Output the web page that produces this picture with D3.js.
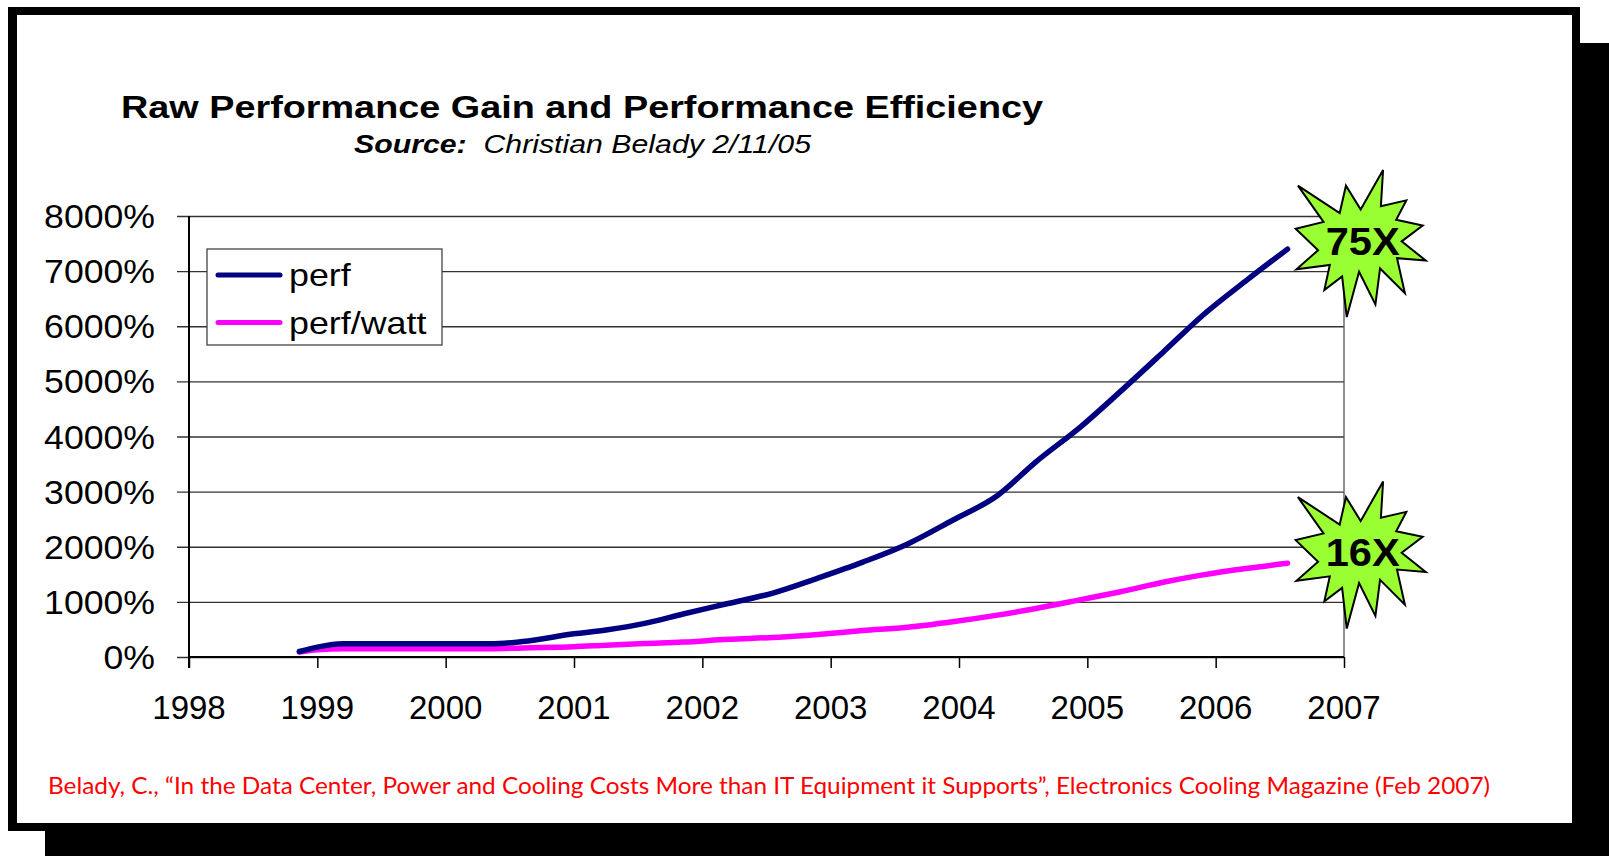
<!DOCTYPE html>
<html>
<head>
<meta charset="utf-8">
<script src="https://cdn.jsdelivr.net/npm/d3@7"></script>
<style>
  html, body { margin: 0; padding: 0; background: #fff; }
  svg { display: block; }
</style>
</head>
<body>
<svg id="chart" width="1609" height="856"></svg>
<script>
// ---- data -------------------------------------------------------------
const years    = [1998.86, 1999.0, 1999.2, 1999.6, 2000.0, 2000.35, 2000.6, 2001.0, 2001.25, 2001.55,
                  2001.85, 2002.2, 2002.55, 2002.9, 2003.25, 2003.6, 2003.95, 2004.3, 2004.6, 2004.95,
                  2005.25, 2005.6, 2005.9, 2006.25, 2006.56];
const perf     = [100, 180, 240, 240, 240, 240, 280, 420, 490, 610,
                  780, 970, 1160, 1430, 1720, 2050, 2480, 2930, 3540, 4180,
                  4800, 5550, 6200, 6850, 7400];
const perfWatt = [90, 130, 150, 150, 150, 150, 165, 185, 215, 245,
                  270, 320, 355, 410, 480, 540, 640, 760, 880, 1040,
                  1180, 1360, 1490, 1610, 1700];
const seriesNames = ["perf", "perf/watt"];
const seriesColors = ["#000080", "#FF00FF"];
const yTicks = [0, 1000, 2000, 3000, 4000, 5000, 6000, 7000, 8000];
const xTicks = [1998, 1999, 2000, 2001, 2002, 2003, 2004, 2005, 2006, 2007];
const calloutLabels = ["75X", "16X"];
const calloutYears  = [2007.13, 2007.13];
const calloutValues = [7500, 1850];

const titleText = "Raw Performance Gain and Performance Efficiency";
const sourceLabel = "Source:";
const sourceText = "Christian Belady 2/11/05";
const citation = "Belady, C., \u201CIn the Data Center, Power and Cooling Costs More than IT Equipment it Supports\u201D, Electronics Cooling Magazine (Feb 2007)";

// ---- layout -----------------------------------------------------------
const svg = d3.select("#chart");
const plot = { left: 189, right: 1344, top: 216, bottom: 657 };

const x = d3.scaleLinear().domain([1998, 2007]).range([plot.left, plot.right]);
const y = d3.scaleLinear().domain([0, 8000]).range([plot.bottom, plot.top]);

// slide frame with drop shadow
svg.append("rect").attr("x", 45).attr("y", 43).attr("width", 1609 - 45).attr("height", 856 - 43).attr("fill", "#000");
svg.append("rect").attr("x", 8).attr("y", 7).attr("width", 1572).attr("height", 824).attr("fill", "#000");
svg.append("rect").attr("x", 17).attr("y", 15).attr("width", 1555).attr("height", 808).attr("fill", "#fff");

const font = "'Liberation Sans', Arial, sans-serif";

// title
svg.append("text")
  .attr("x", 121).attr("y", 118)
  .attr("font-family", font).attr("font-weight", "bold").attr("font-size", 32)
  .attr("textLength", 922).attr("lengthAdjust", "spacingAndGlyphs")
  .attr("fill", "#000")
  .text(titleText);

const sub = svg.append("text")
  .attr("x", 354).attr("y", 153)
  .attr("font-family", font).attr("font-style", "italic").attr("font-size", 25)
  .attr("textLength", 457).attr("lengthAdjust", "spacingAndGlyphs")
  .attr("fill", "#000");
sub.append("tspan").attr("font-weight", "bold").text(sourceLabel);
sub.append("tspan").text("\u00A0 " + sourceText);

// gridlines with outer tick stubs
const grid = svg.append("g")
  .attr("transform", `translate(${plot.left},0)`)
  .call(d3.axisLeft(y).tickValues(yTicks).tickSize(12).tickFormat(""));
grid.select(".domain").remove();
grid.selectAll(".tick line")
  .attr("x2", plot.right - plot.left)
  .attr("x1", -12)
  .attr("stroke", "#333").attr("stroke-width", 1.3);

// y tick labels
svg.append("g").selectAll("text")
  .data(yTicks).join("text")
  .attr("transform", d => `translate(155,${y(d) + 12}) scale(1.08,1)`)
  .attr("text-anchor", "end")
  .attr("font-family", font).attr("font-size", 33)
  .attr("fill", "#000")
  .text(d => d + "%");

// right border of plot area
svg.append("line")
  .attr("x1", plot.right).attr("x2", plot.right)
  .attr("y1", plot.top).attr("y2", plot.bottom)
  .attr("stroke", "#555").attr("stroke-width", 1.3);

// x axis
const xAxis = svg.append("g")
  .attr("transform", `translate(0,${plot.bottom})`)
  .call(d3.axisBottom(x).tickValues(xTicks).tickSize(11).tickFormat(""));
xAxis.select(".domain").attr("stroke", "#000").attr("stroke-width", 2)
  .attr("d", `M${plot.left},0H${plot.right}`);
xAxis.selectAll(".tick line").attr("stroke", "#000").attr("stroke-width", 1.5);

svg.append("g").selectAll("text")
  .data(xTicks).join("text")
  .attr("x", d => x(d)).attr("y", 719)
  .attr("text-anchor", "middle")
  .attr("font-family", font).attr("font-size", 33)
  .attr("fill", "#000")
  .text(d => d);

// y axis line
svg.append("line")
  .attr("x1", plot.left).attr("x2", plot.left)
  .attr("y1", plot.top).attr("y2", plot.bottom + 11)
  .attr("stroke", "#000").attr("stroke-width", 2);

// series lines
const line = d3.line()
  .x((d, i) => x(years[i]))
  .y(d => y(d))
  .curve(d3.curveMonotoneX);

[perfWatt, perf].forEach((vals, k) => {
  const idx = k === 0 ? 1 : 0;
  svg.append("path")
    .datum(vals)
    .attr("d", line)
    .attr("fill", "none")
    .attr("stroke", seriesColors[idx])
    .attr("stroke-width", 5.5)
    .attr("stroke-linecap", "round")
    .attr("stroke-linejoin", "round");
});

// legend
const legend = svg.append("g").attr("transform", "translate(207,249)");
legend.append("rect")
  .attr("width", 235).attr("height", 96)
  .attr("fill", "#fff").attr("stroke", "#444").attr("stroke-width", 1.3);
seriesNames.forEach((name, i) => {
  const ly = 26 + i * 47.5;
  legend.append("line")
    .attr("x1", 11).attr("x2", 73).attr("y1", ly).attr("y2", ly)
    .attr("stroke", seriesColors[i]).attr("stroke-width", 5).attr("stroke-linecap", "round");
  legend.append("text")
    .attr("transform", `translate(82,${ly + 11}) scale(1.12,1)`)
    .attr("font-family", font).attr("font-size", 32)
    .attr("fill", "#000")
    .text(name);
});

// starburst callouts (irregular seal outline on a 21600 grid)
const sealPts = [[10800,5800],[14522,0],[14155,5325],[18380,4457],[16702,7315],[21097,8137],
  [17607,10475],[21600,13290],[16837,12942],[18145,18095],[14020,14457],[13247,19737],
  [10532,14935],[8485,21600],[7715,15627],[4762,17617],[5667,13937],[135,14587],[3722,11775],
  [0,8615],[4627,7617],[370,2295],[7312,6320],[8352,2295]];
const starW = 130, starH = 147;
const sx = d3.scaleLinear().domain([0, 21600]).range([-starW / 2, starW / 2]);
const sy = d3.scaleLinear().domain([0, 21600]).range([-starH / 2, starH / 2]);
const sealPath = d3.line().x(p => sx(p[0])).y(p => sy(p[1]))(sealPts) + "Z";

calloutLabels.forEach((lab, i) => {
  const g = svg.append("g")
    .attr("transform", `translate(${x(calloutYears[i])},${y(calloutValues[i])})`);
  g.append("path")
    .attr("d", sealPath)
    .attr("fill", "#99FF33").attr("stroke", "#000").attr("stroke-width", 2)
    .attr("stroke-linejoin", "miter");
  g.append("text")
    .attr("x", 2).attr("y", 11)
    .attr("text-anchor", "middle")
    .attr("font-family", font).attr("font-weight", "bold").attr("font-size", 38)
    .attr("textLength", 74).attr("lengthAdjust", "spacingAndGlyphs")
    .attr("fill", "#000")
    .text(lab);
});

// citation
svg.append("text")
  .attr("x", 48).attr("y", 794)
  .attr("font-family", "Lato, 'Noto Sans', sans-serif").attr("font-size", 24)
  .attr("textLength", 1442).attr("lengthAdjust", "spacingAndGlyphs")
  .attr("fill", "#FF0000")
  .text(citation);
</script>
</body>
</html>
